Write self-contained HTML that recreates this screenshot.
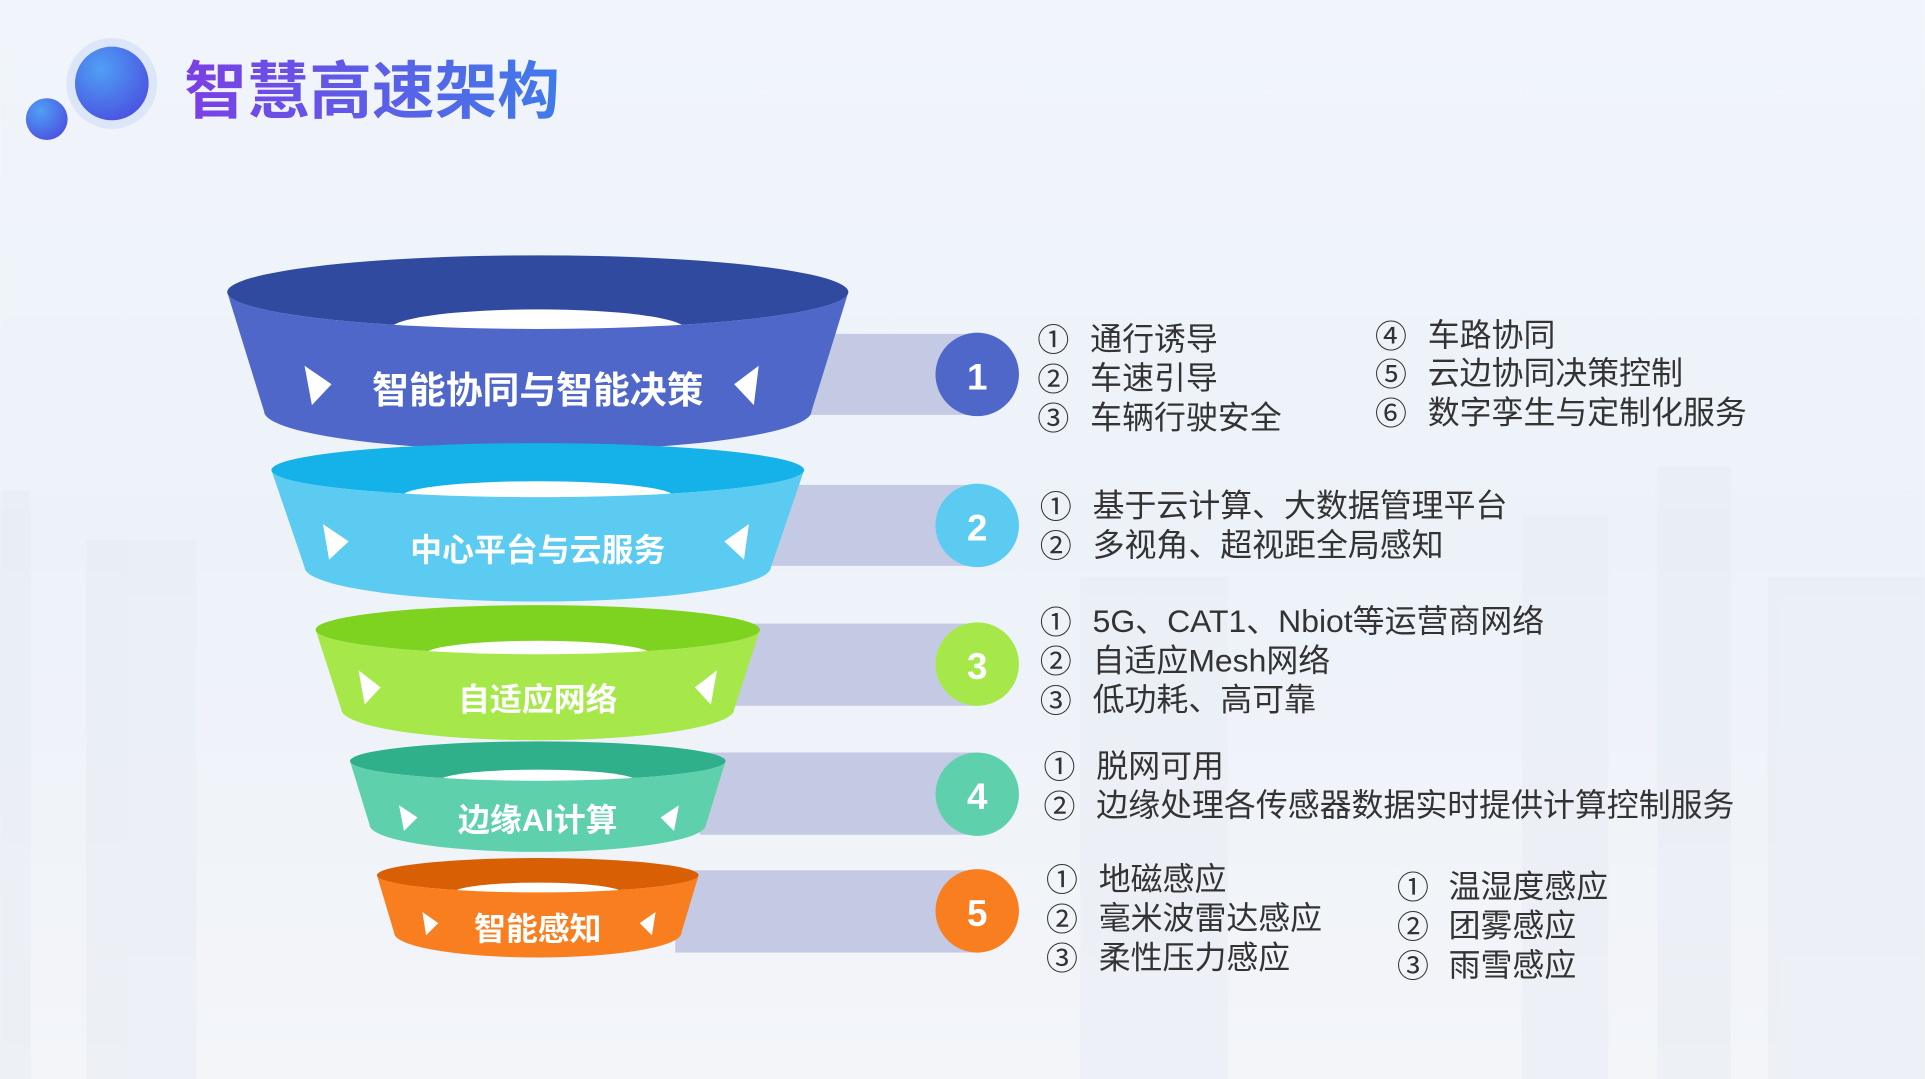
<!DOCTYPE html>
<html><head><meta charset="utf-8"><style>
html,body{margin:0;padding:0;width:1925px;height:1079px;overflow:hidden}
svg{display:block}
text{font-family:"Liberation Sans","Noto Sans CJK SC",sans-serif}
</style></head><body>
<svg width="1925" height="1079" viewBox="0 0 1568 879" xmlns="http://www.w3.org/2000/svg">
<defs>
<linearGradient id="bg" x1="0" y1="0" x2="0" y2="1"><stop offset="0" stop-color="#F1F5FB"/><stop offset="0.5" stop-color="#EDF2F9"/><stop offset="1" stop-color="#F3F5F9"/></linearGradient>
<linearGradient id="tg" x1="0" y1="0" x2="1" y2="0"><stop offset="0" stop-color="#7B3FE4"/><stop offset="1" stop-color="#3F7BEA"/></linearGradient>
<radialGradient id="cg" cx="0.35" cy="0.3" r="0.8"><stop offset="0" stop-color="#4FA0F5"/><stop offset="1" stop-color="#4A4FE0"/></radialGradient>
</defs>
<rect width="1568" height="879" fill="url(#bg)"/>
<g fill="#E6EBF2" opacity="0.45">
<rect x="0" y="400" width="25" height="479"/><rect x="70" y="440" width="90" height="439"/><rect x="1240" y="420" width="70" height="459"/><rect x="1350" y="380" width="60" height="499"/><rect x="1440" y="470" width="128" height="409"/><rect x="880" y="470" width="120" height="409"/>
</g>
<!-- title -->
<circle cx="91" cy="68" r="37" fill="#DCE6F8"/>
<circle cx="91" cy="68" r="30" fill="url(#cg)"/>
<circle cx="38" cy="97" r="17" fill="url(#cg)"/>
<text x="150" y="75" font-size="51" font-weight="bold" fill="url(#tg)" dominant-baseline="central">智慧高速架构</text>

<!-- bars -->
<rect x="655" y="272" width="140" height="66" fill="#C5CAE4"/>
<rect x="625" y="395" width="170" height="66" fill="#C5CAE4"/>
<rect x="595" y="508" width="200" height="67" fill="#C5CAE4"/>
<rect x="570" y="613" width="225" height="67" fill="#C5CAE4"/>
<rect x="550" y="709" width="245" height="67" fill="#C5CAE4"/>
<g font-size="30" font-weight="bold" fill="#fff" text-anchor="middle" dominant-baseline="central">
<ellipse cx="796" cy="305" rx="34" ry="34" fill="#4F67C8"/><text x="796" y="307">1</text>
<ellipse cx="796" cy="428" rx="34" ry="34" fill="#5BCBF2"/><text x="796" y="430">2</text>
<ellipse cx="796" cy="541" rx="34" ry="34" fill="#A6E84A"/><text x="796" y="543">3</text>
<ellipse cx="796" cy="647" rx="34" ry="34" fill="#5ED1AC"/><text x="796" y="649">4</text>
<ellipse cx="796" cy="742" rx="34" ry="34" fill="#F97E1F"/><text x="796" y="744">5</text>
</g>

<!-- seg1 -->
<ellipse cx="438" cy="238" rx="253" ry="30" fill="#2F4A9E"/>
<ellipse cx="438" cy="268" rx="120" ry="16" fill="#fff"/>
<path d="M185 238 A253 30 0 0 0 691 238 L661 335 A223 32 0 0 1 215 335 Z" fill="#4F67C8"/>
<!-- seg2 -->
<ellipse cx="438" cy="383" rx="217" ry="22" fill="#14B2E8"/>
<ellipse cx="438" cy="404" rx="110" ry="12" fill="#fff"/>
<path d="M221 383 A217 22 0 0 0 655 383 L628 462 A190 28 0 0 1 248 462 Z" fill="#5BCBF2"/>
<!-- seg3 -->
<ellipse cx="438" cy="513" rx="181" ry="20" fill="#7ED321"/>
<ellipse cx="438" cy="533" rx="92" ry="11" fill="#fff"/>
<path d="M257 513 A181 20 0 0 0 619 513 L598 578 A160 25 0 0 1 278 578 Z" fill="#A6E84A"/>
<!-- seg4 -->
<ellipse cx="438" cy="620" rx="153" ry="16" fill="#2FAF8A"/>
<ellipse cx="438" cy="636" rx="80" ry="9" fill="#fff"/>
<path d="M285 620 A153 16 0 0 0 591 620 L575 672 A137 22 0 0 1 301 672 Z" fill="#5ED1AC"/>
<!-- seg5 -->
<ellipse cx="438" cy="713" rx="131" ry="14" fill="#D95F05"/>
<ellipse cx="438" cy="727" rx="68" ry="8" fill="#fff"/>
<path d="M307 713 A131 14 0 0 0 569 713 L555 760 A117 20 0 0 1 321 760 Z" fill="#F97E1F"/>

<g fill="#fff">
<path d="M248 298 L270 313 L254 330 Z"/><path d="M618 298 L598 313 L614 330 Z"/>
<path d="M263 427 L284 441 L268 456 Z"/><path d="M610 427 L590 441 L606 456 Z"/>
<path d="M292 546 L310 560 L297 574 Z"/><path d="M584 546 L566 560 L579 574 Z"/>
<path d="M325 656 L340 666 L329 677 Z"/><path d="M553 656 L538 666 L549 677 Z"/>
<path d="M344 743 L357 752 L347 762 Z"/><path d="M534 743 L521 752 L531 762 Z"/>
</g>
<g fill="#fff" font-weight="bold" text-anchor="middle" dominant-baseline="central">
<text x="438" y="318" font-size="30">智能协同与智能决策</text>
<text x="438" y="448" font-size="26">中心平台与云服务</text>
<text x="438" y="570" font-size="26">自适应网络</text>
<text x="438" y="668" font-size="26">边缘AI计算</text>
<text x="438" y="757" font-size="26">智能感知</text>
</g>

<g font-size="26" fill="#333" dominant-baseline="central">
<text x="845" y="277">①</text><text x="888" y="276">通行诱导</text>
<text x="845" y="309">②</text><text x="888" y="308">车速引导</text>
<text x="845" y="341">③</text><text x="888" y="340">车辆行驶安全</text>
<text x="1120" y="274">④</text><text x="1163" y="273">车路协同</text>
<text x="1120" y="305">⑤</text><text x="1163" y="304">云边协同决策控制</text>
<text x="1120" y="337">⑥</text><text x="1163" y="336">数字孪生与定制化服务</text>

<text x="847" y="413">①</text><text x="890" y="412">基于云计算、大数据管理平台</text>
<text x="847" y="445">②</text><text x="890" y="444">多视角、超视距全局感知</text>

<text x="847" y="507">①</text><text x="890" y="506">5G、CAT1、Nbiot等运营商网络</text>
<text x="847" y="539">②</text><text x="890" y="538">自适应Mesh网络</text>
<text x="847" y="571">③</text><text x="890" y="570">低功耗、高可靠</text>

<text x="850" y="625">①</text><text x="893" y="624">脱网可用</text>
<text x="850" y="657">②</text><text x="893" y="656">边缘处理各传感器数据实时提供计算控制服务</text>

<text x="852" y="717">①</text><text x="895" y="716">地磁感应</text>
<text x="852" y="749">②</text><text x="895" y="748">毫米波雷达感应</text>
<text x="852" y="781">③</text><text x="895" y="780">柔性压力感应</text>
<text x="1138" y="723">①</text><text x="1180" y="722">温湿度感应</text>
<text x="1138" y="755">②</text><text x="1180" y="754">团雾感应</text>
<text x="1138" y="787">③</text><text x="1180" y="786">雨雪感应</text>
</g>
</svg>
</body></html>
